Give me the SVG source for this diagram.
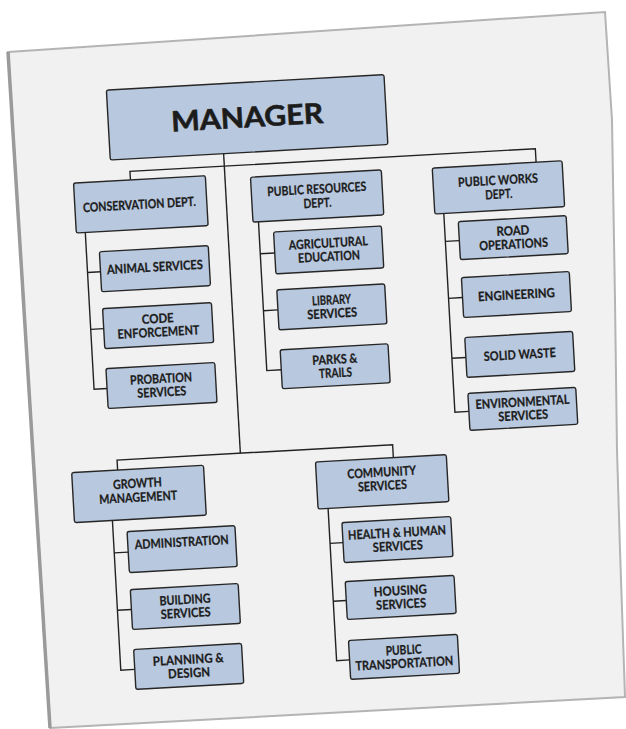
<svg xmlns="http://www.w3.org/2000/svg" width="626" height="729" viewBox="0 0 626 729">
<style>
.box{fill:#b8c8de;stroke:#262626;stroke-width:1.4}
.lbl{font-family:Lato,"Liberation Sans",sans-serif;font-weight:700;font-size:12.8px;fill:#1c1c1c;stroke:#1c1c1c;stroke-width:0.25;text-anchor:middle}
.big{font-size:28px;stroke-width:0.6}
.conn{fill:none;stroke:#222;stroke-width:1.4}
</style>
<rect x="0" y="0" width="626" height="729" fill="#ffffff"/>
<g id="paper">
<polygon points="8,52 605,12 612,120 615,300 617,450 620,550 625,697 50,728" fill="#f1f1f1" stroke="#b4b4b4" stroke-width="2"/>
<polyline points="8,52 50,728" fill="none" stroke="#9a9a9a" stroke-width="3.5"/>
</g>
<g transform="rotate(-3.2 313 364)">
<g id="connectors" class="conn">
<path d="M235.5,149 V449"/>
<path d="M141,170 V161.5 H547 V175"/>
<path d="M112,459 V449 H388 V462"/>
<path d="M93,220 V377 H106 M93,260 H106 M93,317 H106"/>
<path d="M266.5,219 V368 H281 M266.5,251 H281 M266.5,308 H281"/>
<path d="M452,221 V420 H466 M452,249 H466 M452,306 H466 M452,366 H466"/>
<path d="M104,509 V659 H118 M104,541.5 H118 M104,599 H118"/>
<path d="M320,509 V661.5 H333 M320,544 H333 M320,602 H333"/>
</g>
<g id="manager"><rect class="box" x="122" y="79" width="278" height="70" rx="2"/><text class="lbl big" x="261" y="124" textLength="152" lengthAdjust="spacingAndGlyphs">MANAGER</text></g>
<g id="conservation"><rect class="box" x="84" y="170" width="132" height="50" rx="2"/><text class="lbl" x="148.5" y="199.6" textLength="113" lengthAdjust="spacingAndGlyphs">CONSERVATION DEPT.</text></g>
<g id="public-resources"><rect class="box" x="261" y="174" width="131" height="45" rx="2"/><text class="lbl" x="326.5" y="194" textLength="99" lengthAdjust="spacingAndGlyphs">PUBLIC RESOURCES</text><text class="lbl" x="326.5" y="208" textLength="28" lengthAdjust="spacingAndGlyphs">DEPT.</text></g>
<g id="public-works"><rect class="box" x="443" y="175" width="130" height="46" rx="2"/><text class="lbl" x="508" y="195.3" textLength="80" lengthAdjust="spacingAndGlyphs">PUBLIC WORKS</text><text class="lbl" x="508" y="209.3" textLength="27" lengthAdjust="spacingAndGlyphs">DEPT.</text></g>
<g id="animal-services"><rect class="box" x="106" y="240" width="109" height="40" rx="2"/><text class="lbl" x="160.5" y="262.8" textLength="96" lengthAdjust="spacingAndGlyphs">ANIMAL SERVICES</text></g>
<g id="code-enforcement"><rect class="box" x="106" y="297" width="109" height="40" rx="2"/><text class="lbl" x="160.5" y="314.5" textLength="32" lengthAdjust="spacingAndGlyphs">CODE</text><text class="lbl" x="160.5" y="328" textLength="82" lengthAdjust="spacingAndGlyphs">ENFORCEMENT</text></g>
<g id="probation-services"><rect class="box" x="106" y="357" width="109" height="40" rx="2"/><text class="lbl" x="160.5" y="374.5" textLength="62" lengthAdjust="spacingAndGlyphs">PROBATION</text><text class="lbl" x="160.5" y="388" textLength="49" lengthAdjust="spacingAndGlyphs">SERVICES</text></g>
<g id="agricultural-education"><rect class="box" x="281" y="230" width="108" height="42" rx="2"/><text class="lbl" x="335" y="248.5" textLength="79" lengthAdjust="spacingAndGlyphs">AGRICULTURAL</text><text class="lbl" x="335" y="262" textLength="62" lengthAdjust="spacingAndGlyphs">EDUCATION</text></g>
<g id="library-services"><rect class="box" x="281" y="288" width="108" height="40" rx="2"/><text class="lbl" x="335" y="305.5" textLength="39" lengthAdjust="spacingAndGlyphs">LIBRARY</text><text class="lbl" x="335" y="319" textLength="50" lengthAdjust="spacingAndGlyphs">SERVICES</text></g>
<g id="parks-trails"><rect class="box" x="281" y="348" width="108" height="39" rx="2"/><text class="lbl" x="335" y="365" textLength="45" lengthAdjust="spacingAndGlyphs">PARKS &amp;</text><text class="lbl" x="335" y="378.5" textLength="33" lengthAdjust="spacingAndGlyphs">TRAILS</text></g>
<g id="road-operations"><rect class="box" x="466" y="230" width="108" height="38" rx="2"/><text class="lbl" x="520" y="246.5" textLength="33" lengthAdjust="spacingAndGlyphs">ROAD</text><text class="lbl" x="520" y="260" textLength="69" lengthAdjust="spacingAndGlyphs">OPERATIONS</text></g>
<g id="engineering"><rect class="box" x="466" y="286" width="108" height="40" rx="2"/><text class="lbl" x="520" y="310.6" textLength="77" lengthAdjust="spacingAndGlyphs">ENGINEERING</text></g>
<g id="solid-waste"><rect class="box" x="466" y="346" width="108" height="40" rx="2"/><text class="lbl" x="520" y="370.6" textLength="72" lengthAdjust="spacingAndGlyphs">SOLID WASTE</text></g>
<g id="environmental-services"><rect class="box" x="466" y="402" width="108" height="37" rx="2"/><text class="lbl" x="520" y="418" textLength="94" lengthAdjust="spacingAndGlyphs">ENVIRONMENTAL</text><text class="lbl" x="520" y="431.5" textLength="50" lengthAdjust="spacingAndGlyphs">SERVICES</text></g>
<g id="growth-management"><rect class="box" x="66" y="459" width="132" height="50" rx="2"/><text class="lbl" x="131" y="477.8" textLength="49" lengthAdjust="spacingAndGlyphs">GROWTH</text><text class="lbl" x="131" y="491.8" textLength="78" lengthAdjust="spacingAndGlyphs">MANAGEMENT</text></g>
<g id="community-services"><rect class="box" x="310" y="462" width="131" height="47" rx="2"/><text class="lbl" x="375.5" y="480.3" textLength="69" lengthAdjust="spacingAndGlyphs">COMMUNITY</text><text class="lbl" x="375.5" y="493.8" textLength="49" lengthAdjust="spacingAndGlyphs">SERVICES</text></g>
<g id="administration"><rect class="box" x="118" y="521" width="108" height="41" rx="2"/><text class="lbl" x="172" y="539" textLength="94" lengthAdjust="spacingAndGlyphs">ADMINISTRATION</text></g>
<g id="building-services"><rect class="box" x="118" y="579" width="108" height="40" rx="2"/><text class="lbl" x="172" y="596.5" textLength="51" lengthAdjust="spacingAndGlyphs">BUILDING</text><text class="lbl" x="172" y="610" textLength="50" lengthAdjust="spacingAndGlyphs">SERVICES</text></g>
<g id="planning-design"><rect class="box" x="118" y="639" width="108" height="40" rx="2"/><text class="lbl" x="172" y="656.5" textLength="71" lengthAdjust="spacingAndGlyphs">PLANNING &amp;</text><text class="lbl" x="172" y="670" textLength="42" lengthAdjust="spacingAndGlyphs">DESIGN</text></g>
<g id="health-human-services"><rect class="box" x="333" y="524" width="109" height="40" rx="2"/><text class="lbl" x="387.5" y="541.5" textLength="98" lengthAdjust="spacingAndGlyphs">HEALTH &amp; HUMAN</text><text class="lbl" x="387.5" y="555" textLength="50" lengthAdjust="spacingAndGlyphs">SERVICES</text></g>
<g id="housing-services"><rect class="box" x="333" y="583" width="109" height="38" rx="2"/><text class="lbl" x="387.5" y="599.5" textLength="53" lengthAdjust="spacingAndGlyphs">HOUSING</text><text class="lbl" x="387.5" y="613" textLength="50" lengthAdjust="spacingAndGlyphs">SERVICES</text></g>
<g id="public-transportation"><rect class="box" x="333" y="642" width="109" height="39" rx="2"/><text class="lbl" x="387.5" y="659" textLength="36" lengthAdjust="spacingAndGlyphs">PUBLIC</text><text class="lbl" x="387.5" y="672.5" textLength="98" lengthAdjust="spacingAndGlyphs">TRANSPORTATION</text></g>
</g>
</svg>
